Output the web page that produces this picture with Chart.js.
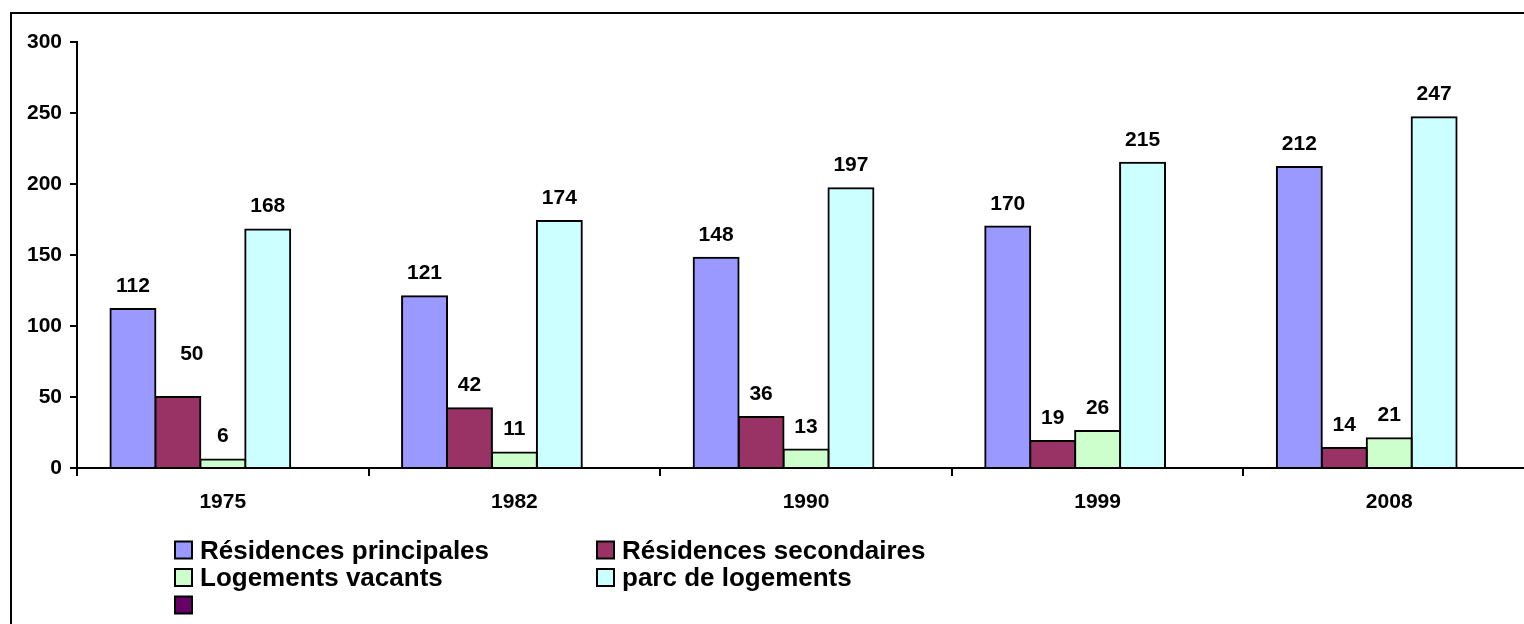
<!DOCTYPE html>
<html>
<head>
<meta charset="utf-8">
<script src="https://cdn.jsdelivr.net/npm/chart.js@4/dist/chart.umd.min.js"></script>
<style>
  html, body { margin: 0; padding: 0; background: #fff; overflow: hidden; width: 1524px; height: 624px; }
  #cadre { position: absolute; left: 10px; top: 12px; width: 1600px; height: 700px;
           border-left: 2px solid #000; border-top: 2px solid #000; }
  #zone { position: absolute; left: 0; top: 0; }
</style>
</head>
<body>
<div id="cadre"></div>
<div id="zone"><canvas id="logements" width="1540" height="624"></canvas></div>
<script>
// années de recensement
const annees = ["1975", "1982", "1990", "1999", "2008"];

// nombre de logements par catégorie
const residencesPrincipales = [112, 121, 148, 170, 212];
const residencesSecondaires = [50, 42, 36, 19, 14];
const logementsVacants = [6, 11, 13, 26, 21];
const parcLogements = [168, 174, 197, 215, 247];
const serieVide = [null, null, null, null, null];

const police = "'Liberation Sans', Arial, sans-serif";

// étiquette déplacée à la main (50 en 1975)
const etiquetteDeplacee = { serie: 1, index: 0, dx: 14, dy: -20 };

// valeurs au-dessus des barres
const valeursBarres = {
  id: 'valeursBarres',
  afterDatasetsDraw(chart) {
    const ctx = chart.ctx;
    ctx.save();
    ctx.font = "bold 21px " + police;
    ctx.fillStyle = "#000";
    ctx.textAlign = "center";
    ctx.textBaseline = "alphabetic";
    chart.data.datasets.forEach((ds, i) => {
      chart.getDatasetMeta(i).data.forEach((bar, j) => {
        const v = ds.data[j];
        if (v == null) return;
        let dx = 0, dy = 0;
        if (i === etiquetteDeplacee.serie && j === etiquetteDeplacee.index) {
          dx = etiquetteDeplacee.dx; dy = etiquetteDeplacee.dy;
        }
        ctx.fillText(String(v), bar.x + dx, bar.y - 17 + dy);
      });
    });
    ctx.restore();
  }
};

// légende sur deux colonnes sous le graphique
const legendeColonnes = {
  id: 'legendeColonnes',
  afterDraw(chart) {
    const ctx = chart.ctx;
    const colonnes = [175, 597];
    const haut = 541.5, pas = 27.5, cote = 17;
    ctx.save();
    ctx.font = "bold 26px " + police;
    ctx.textBaseline = "alphabetic";
    ctx.textAlign = "left";
    chart.data.datasets.forEach((ds, i) => {
      const x = colonnes[i % 2];
      const y = haut + pas * Math.floor(i / 2);
      ctx.fillStyle = ds.backgroundColor;
      ctx.fillRect(x, y, cote, cote);
      ctx.lineWidth = 2;
      ctx.strokeStyle = "#000";
      ctx.strokeRect(x, y, cote, cote);
      ctx.fillStyle = "#000";
      ctx.fillText(ds.label, x + 25, y + cote);
    });
    ctx.restore();
  }
};

function serie(label, data, couleur) {
  return {
    label: label,
    data: data,
    backgroundColor: couleur,
    borderColor: "#000",
    borderWidth: 2,
    inflateAmount: 1,
    barPercentage: 1,
    categoryPercentage: 0.7705
  };
}

new Chart(document.getElementById("logements"), {
  type: 'bar',
  data: {
    labels: annees,
    datasets: [
      serie("Résidences principales", residencesPrincipales, "#9999FF"),
      serie("Résidences secondaires", residencesSecondaires, "#993366"),
      serie("Logements vacants", logementsVacants, "#CCFFCC"),
      serie("parc de logements", parcLogements, "#CCFFFF"),
      serie("", serieVide, "#660066")
    ]
  },
  options: {
    responsive: false,
    animation: false,
    devicePixelRatio: 1,
    layout: { padding: { left: 0, right: 5, top: 42, bottom: 0 } },
    plugins: { legend: { display: false }, tooltip: { enabled: false } },
    scales: {
      x: {
        offset: true,
        grid: { offset: true, drawOnChartArea: false, color: "#000", lineWidth: 2, tickLength: 8 },
        border: { color: "#000", width: 2 },
        ticks: { color: "#000", font: { family: police, size: 21, weight: 'bold' }, padding: 14, maxRotation: 0 },
        afterFit: s => { s.height = 156; }
      },
      y: {
        min: 0,
        max: 300,
        grid: { drawOnChartArea: false, color: "#000", lineWidth: 2, tickLength: 7 },
        border: { color: "#000", width: 2 },
        ticks: { stepSize: 50, color: "#000", font: { family: police, size: 21, weight: 'bold' }, padding: 8 },
        afterFit: s => { s.width = 77; }
      }
    }
  },
  plugins: [valeursBarres, legendeColonnes]
});
</script>
</body>
</html>
